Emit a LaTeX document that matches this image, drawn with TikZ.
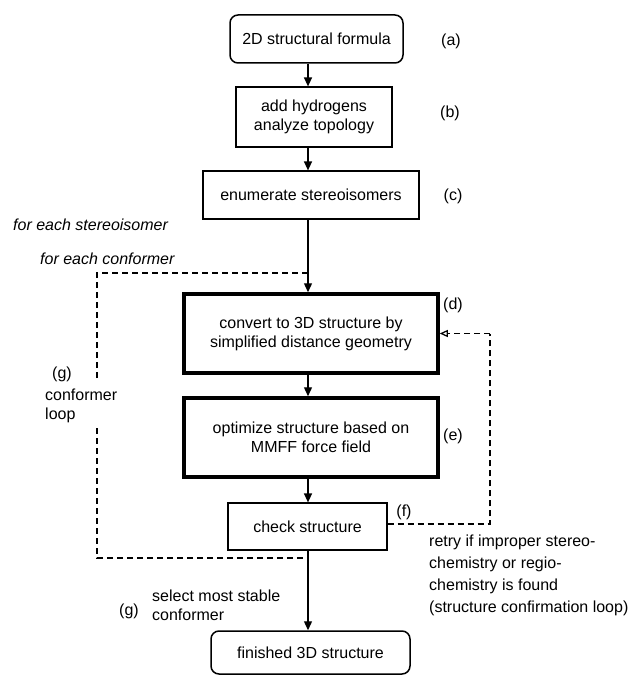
\documentclass[tikz,border=0pt]{standalone}
\usepackage{fontspec}
\setmainfont{Liberation Sans}
\usetikzlibrary{arrows.meta}
\begin{document}
\begin{tikzpicture}[x=1pt,y=-1pt,
  txt/.style={font=\fontsize{16}{19}\selectfont, inner sep=0pt},
  box/.style={txt, draw, line width=1.2pt, align=center},
  thickbox/.style={box, line width=3.5pt},
  rbox/.style={box, rounded corners=8pt, line width=1.5pt},
  lbl/.style={txt},
  note/.style={txt, anchor=west, align=left},
  arr/.style={line width=1.3pt, -{Triangle[length=9pt,width=8pt]}},
  dsh/.style={line width=1.2pt, dash pattern=on 6pt off 4pt},
  darr/.style={dsh, -{Triangle[length=8pt,width=7pt,open]}}
]
\useasboundingbox (0,0) rectangle (634,676);
\coordinate (ax) at (308,0);
% main boxes
\node[rbox, minimum width=173pt, minimum height=48pt] (a) at (316.5,39) {2D structural formula};
\node[box, minimum width=156pt, minimum height=60pt] (b) at (314,117) {add hydrogens\\analyze topology};
\node[box, minimum width=216pt, minimum height=48pt] (c) at (311,195) {enumerate stereoisomers};
\node[thickbox, minimum width=254pt, minimum height=79pt] (d) at (311,333.5) {convert to 3D structure by\\simplified distance geometry};
\node[thickbox, minimum width=254pt, minimum height=79pt] (e) at (311,437.5) {optimize structure based on\\MMFF force field};
\node[box, minimum width=159pt, minimum height=47pt] (f) at (307.5,526.5) {check structure};
\node[rbox, minimum width=199pt, minimum height=43pt] (g) at (310.5,652.5) {finished 3D structure};
% step labels
\node[lbl] (la) at (451,41) {(a)};
\node[lbl] (lb) at (450,113) {(b)};
\node[lbl] (lc) at (453,196) {(c)};
\node[lbl] (ld) at (453,305) {(d)};
\node[lbl] (le) at (453,436) {(e)};
\node[lbl] (lf) at (404,512) {(f)};
% side texts
\node[note, font=\fontsize{16}{19}\selectfont\itshape] (fs) at (13,225) {for each stereoisomer};
\node[note, font=\fontsize{16}{19}\selectfont\itshape] (fc) at (40,259) {for each conformer};
\node[lbl] (lg1) at (62,374) {(g)};
\node[note] (cl) at (45,406) {conformer\\loop};
\node[lbl] (lg2) at (129,611) {(g)};
\node[note] (sel) at (152,605) {select most stable\\conformer};
\node[note, align=left, font=\fontsize{16}{22}\selectfont] (retry) at (429,575) {retry if improper stereo-\\chemistry or regio-\\chemistry is found\\(structure confirmation loop)};
% main arrows
\draw[arr] (ax |- a.south) -- (ax |- b.north);
\draw[arr] (ax |- b.south) -- (ax |- c.north);
\draw[arr] (ax |- c.south) -- (ax |- d.north);
\draw[arr] (ax |- d.south) -- (ax |- e.north);
\draw[arr] (ax |- e.south) -- (ax |- f.north);
\draw[arr] (ax |- f.south) -- (ax |- g.north);
% conformer loop (dashed)
\coordinate (gtop) at (97,378);
\coordinate (gtopc) at (97,273);
\coordinate (gtopj) at (308,273);
\coordinate (gbot) at (97,428);
\coordinate (gbotc) at (97,558);
\coordinate (gbotj) at (308,558);
\draw[dsh] (gtop) -- (gtopc) -- (gtopj);
\draw[dsh] (gbot) -- (gbotc) -- (gbotj);
% structure confirmation loop (dashed)
\coordinate (rc1) at (490,524);
\coordinate (rc2) at (490,333.5);
\draw[dsh] (f.east |- rc1) -- (rc1) -- (rc2);
\draw[darr] (rc2) -- (d.east);
\end{tikzpicture}
\end{document}
